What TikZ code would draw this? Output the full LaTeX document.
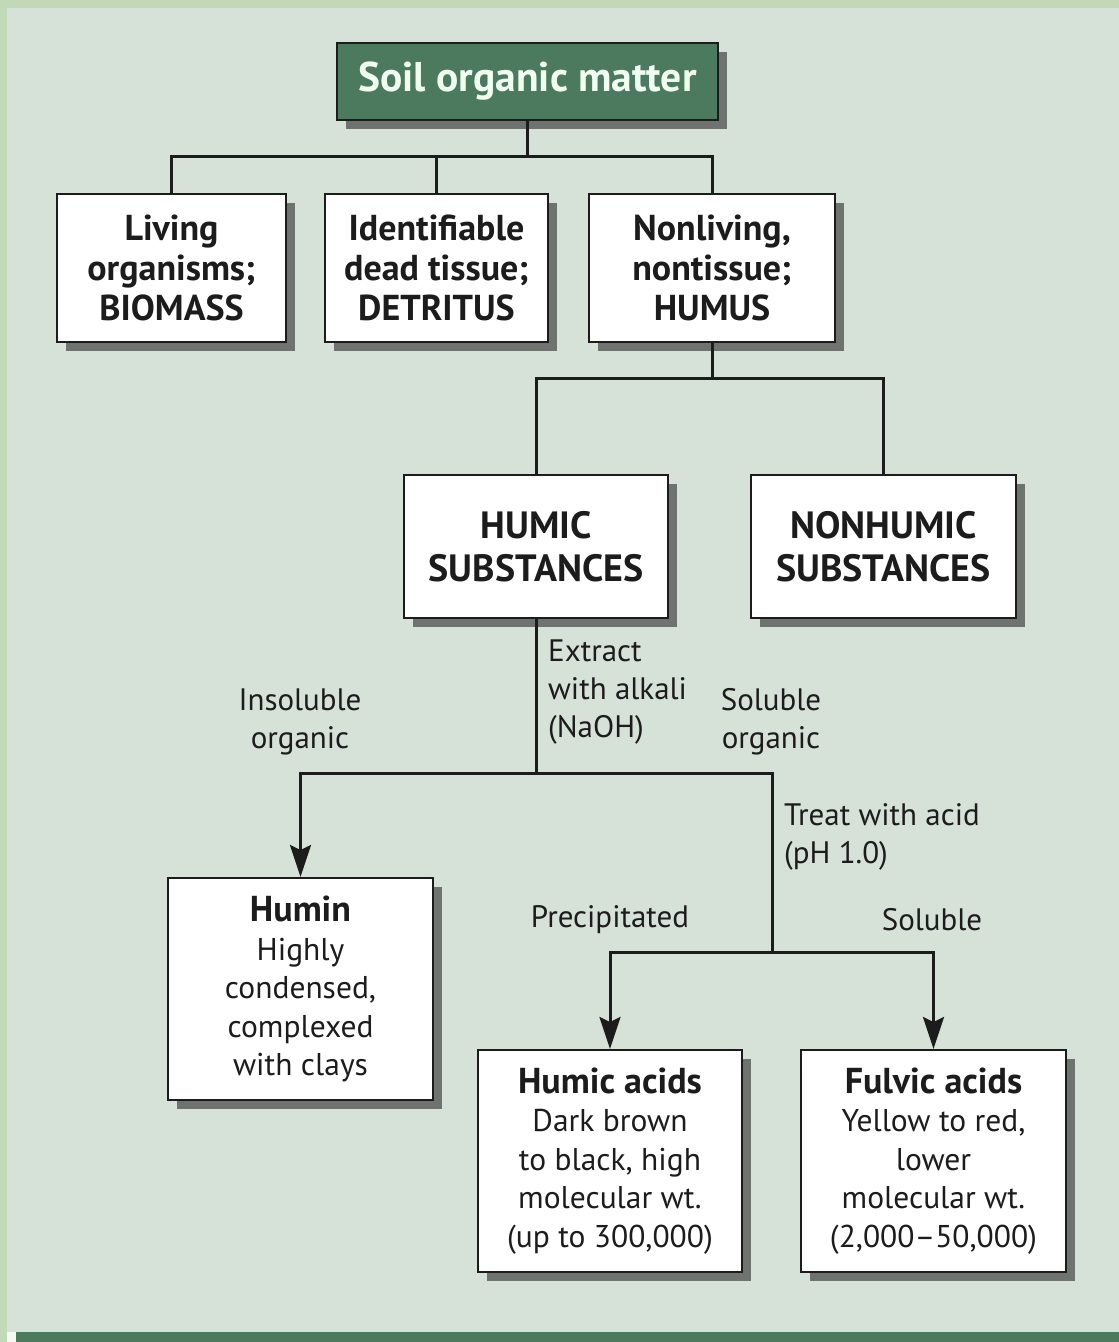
\documentclass[tikz,border=0pt]{standalone}
\usepackage{fontspec}
\setmainfont{PT Sans}
\usetikzlibrary{shadows,arrows.meta}
\definecolor{framegreen}{HTML}{C2D9B8}
\definecolor{panel}{HTML}{D6E1D8}
\definecolor{soilgreen}{HTML}{4B7A5F}
\definecolor{boxshade}{HTML}{6F7370}
\definecolor{ink}{HTML}{1C1C1C}
\newcommand{\boxhead}[1]{{\fontsize{36}{38.5}\selectfont\bfseries #1}}
\begin{document}
\begin{tikzpicture}[x=1pt,y=-1pt,
  shade box/.style={draw=ink, line width=2pt, inner sep=0pt, align=center,
    drop shadow={shadow xshift=9pt, shadow yshift=-9pt, fill=boxshade, opacity=1}},
  sz/.style 2 args={minimum width=#1pt, minimum height=#2pt},
  headbox/.style={shade box, fill=white, text=ink,
    font=\bfseries\fontsize{36}{40}\selectfont},
  bigbox/.style={shade box, fill=white, text=ink,
    font=\bfseries\fontsize{38}{43}\selectfont},
  infobox/.style={shade box, fill=white, text=ink,
    font=\fontsize{31.5}{38.5}\selectfont},
  titlebox/.style={shade box, fill=soilgreen, text=white!94!green,
    font=\bfseries\fontsize{41.5}{44}\selectfont},
  lbl/.style={text=ink, inner sep=0pt, font=\fontsize{31}{38}\selectfont},
  conn/.style={draw=ink, line width=3pt},
  arr/.style={conn, -{Stealth[length=32pt, width=21pt, inset=5pt]}}]

% background frame and panel
\fill[framegreen] (0,0) rectangle (1119,1342);
\fill[panel] (7,8) rectangle (1119,1332);
\fill[white!75!panel] (7,1332) rectangle (16,1342);
\fill[soilgreen] (16,1332) rectangle (1119,1342);
\useasboundingbox (0,0) rectangle (1119,1342);

% boxes
\node[titlebox, sz={381}{77}] (top) at (527.5,81.5) {Soil organic matter};

\node[headbox, sz={229}{148}] (bio) at (171.5,268) {Living\\organisms;\\BIOMASS};
\node[headbox, sz={223}{148}] (det) at (436.5,268) {Identifiable\\dead tissue;\\DETRITUS};
\node[headbox, sz={246}{148}] (hms) at (712,268) {Nonliving,\\nontissue;\\HUMUS};

\node[bigbox, sz={264}{143}] (hs) at (536,546.5) {HUMIC\\SUBSTANCES};
\node[bigbox, sz={265}{143}] (nhs) at (883.5,546.5) {NONHUMIC\\SUBSTANCES};

\node[infobox, sz={265}{222}] (humin) at (300.5,989)
  {\boxhead{Humin}\\Highly\\condensed,\\complexed\\with clays};
\node[infobox, sz={264}{222}] (ha) at (610,1161)
  {\boxhead{Humic acids}\\Dark brown\\to black, high\\molecular wt.\\(up to 300,000)};
\node[infobox, sz={265}{222}] (fa) at (933.5,1161)
  {\boxhead{Fulvic acids}\\Yellow to red,\\lower\\molecular wt.\\(2,000--50,000)};

% junction points
\coordinate (bar1) at (528,156);
\coordinate (bar2) at (712,378);
\coordinate (bar3) at (536,773);
\coordinate (sol) at (772,773);
\coordinate (split) at (772,952);

% connectors
\draw[conn] (top.south) -- (top.south |- bar1);
\draw[conn, line join=miter] (bio.north) |- (hms.north |- bar1) -- (hms.north);
\draw[conn] (det.north) -- (det.north |- bar1);

\draw[conn] (hms.south) -- (hms.south |- bar2);
\draw[conn, line join=miter] (hs.north) |- (nhs.north |- bar2) -- (nhs.north);

\draw[conn] (hs.south) -- (hs.south |- bar3);
\draw[arr, line join=miter] (sol) -- (sol -| humin.north) -- (humin.north);
\draw[conn, line join=miter] (hs.south |- bar3) -- (sol) -- (split);
\draw[arr, line join=miter] (split) -- (split -| ha.north) -- (ha.north);
\draw[arr, line join=miter] (split) -- (split -| fa.north) -- (fa.north);

% labels
\node[lbl, align=center] (insol) at (300,722) {Insoluble\\organic};
\node[lbl, align=left, anchor=west] (ext) at (548,692) {Extract\\with alkali\\(NaOH)};
\node[lbl, align=center] (solorg) at (771,722) {Soluble\\organic};
\node[lbl, align=left, anchor=west] (acid) at (784,837) {Treat with acid\\(pH 1.0)};
\node[lbl] (prec) at (610,920) {Precipitated};
\node[lbl] (solb) at (932,920) {Soluble};
\end{tikzpicture}
\end{document}
